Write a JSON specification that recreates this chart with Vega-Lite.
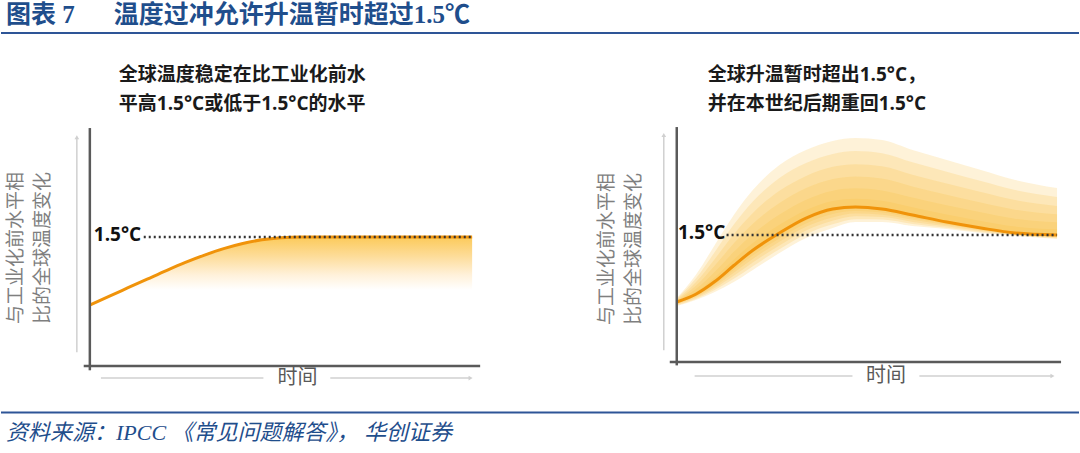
{
  "$schema": "https://vega.github.io/schema/vega-lite/v6.json",
  "width": 1080,
  "height": 453,
  "autosize": {"type": "fit", "contains": "padding"},
  "padding": 0,
  "background": "#ffffff",
  "config": {"view": {"stroke": null}},
  "resolve": {"scale": {"x": "independent", "y": "independent"}},
  "layer": [
    {
      "encoding": {
        "x": {"field": "x", "type": "quantitative", "scale": {"domain": [0, 100], "nice": false, "zero": false}, "axis": null},
        "y": {"field": "y", "type": "quantitative", "scale": {"domain": [0, 100], "reverse": true, "nice": false, "zero": false}, "axis": null}
      },
      "layer": [
        {
          "data": {"values": [
            {"x": 0, "x2": 100, "y": 7.3},
            {"x": 0, "x2": 100, "y": 91.06}
          ]},
          "mark": {"type": "rule", "color": "#2e5597", "strokeWidth": 2},
          "encoding": {"x2": {"field": "x2"}}
        },
        {
          "data": {"values": [
            {"x": 0.46, "y": 3.4, "text": "图表 7"},
            {"x": 10.46, "y": 3.4, "text": "温度过冲允许升温暂时超过1.5℃"}
          ]},
          "mark": {"type": "text", "align": "left", "baseline": "middle", "fontSize": 25, "fontWeight": "bold", "font": "Liberation Serif, Noto Sans CJK SC", "color": "#1f4e8c"},
          "encoding": {"text": {"field": "text", "type": "nominal"}}
        },
        {
          "data": {"values": [
            {"x": 0.46, "y": 95.6, "text": "资料来源：IPCC 《常见问题解答》， 华创证券"}
          ]},
          "mark": {"type": "text", "align": "left", "baseline": "middle", "fontSize": 22, "fontStyle": "italic", "font": "Liberation Serif, Noto Sans CJK SC", "color": "#1f4e8c"},
          "encoding": {"text": {"field": "text", "type": "nominal"}}
        }
      ]
    },
    {
      "encoding": {
        "x": {"field": "t", "type": "quantitative", "scale": {"domain": [-23.24, 258.75], "nice": false, "zero": false}, "axis": null},
        "y": {"field": "y", "type": "quantitative", "scale": {"domain": [-1.0116, 4.2558], "nice": false, "zero": false}, "axis": null}
      },
      "layer": [
        {
          "data": {"values": [
            {"t": 0, "y": 0.709, "y2": 0.62},
            {"t": 5, "y": 0.81, "y2": 0.70},
            {"t": 10, "y": 0.91, "y2": 0.76},
            {"t": 15, "y": 1.01, "y2": 0.79},
            {"t": 20, "y": 1.11, "y2": 0.815},
            {"t": 25, "y": 1.205, "y2": 0.835},
            {"t": 30, "y": 1.29, "y2": 0.85},
            {"t": 35, "y": 1.365, "y2": 0.86},
            {"t": 40, "y": 1.425, "y2": 0.87},
            {"t": 45, "y": 1.467, "y2": 0.875},
            {"t": 50, "y": 1.49, "y2": 0.88},
            {"t": 55, "y": 1.499, "y2": 0.88},
            {"t": 60, "y": 1.5, "y2": 0.88},
            {"t": 100, "y": 1.5, "y2": 0.88}
          ]},
          "layer": [
            {
              "mark": {"type": "area", "interpolate": "monotone", "color": {"gradient": "linear", "x1": 0, "y1": 0, "x2": 0, "y2": 1, "stops": [
                {"offset": 0, "color": "#fcca5a"},
                {"offset": 0.25, "color": "#fddc98"},
                {"offset": 0.5, "color": "#fff1da"},
                {"offset": 0.7, "color": "#ffffff"}
              ]}},
              "encoding": {"y2": {"field": "y2"}}
            },
            {
              "mark": {"type": "line", "color": "#f0930a", "strokeWidth": 3, "interpolate": "monotone"}
            }
          ]
        },
        {
          "data": {"values": [{"t": 14.1, "t2": 100, "y": 1.5, "y2": 1.5}]},
          "mark": {"type": "rule", "color": "#333333", "strokeWidth": 2.5, "strokeDash": [2, 3]},
          "encoding": {"x2": {"field": "t2"}, "y2": {"field": "y2"}}
        },
        {
          "data": {"values": [
            {"t": 0, "t2": 0, "y": -0.05, "y2": 2.767},
            {"t": -1.6, "t2": 102.1, "y": 0, "y2": 0}
          ]},
          "mark": {"type": "rule", "color": "#5a5a5a", "strokeWidth": 2.5},
          "encoding": {"x2": {"field": "t2"}, "y2": {"field": "y2"}}
        },
        {
          "data": {"values": [
            {"t": -3.4, "t2": -3.4, "y": 0.16, "y2": 2.64},
            {"t": 2.9, "t2": 45.4, "y": -0.14, "y2": -0.14},
            {"t": 62.9, "t2": 99.3, "y": -0.14, "y2": -0.14}
          ]},
          "mark": {"type": "rule", "color": "#d0d0d0", "strokeWidth": 1.5},
          "encoding": {"x2": {"field": "t2"}, "y2": {"field": "y2"}}
        },
        {
          "data": {"values": [{"t": -3.4, "y": 2.66}]},
          "mark": {"type": "point", "shape": "triangle-up", "filled": true, "size": 22, "color": "#d0d0d0", "opacity": 1}
        },
        {
          "data": {"values": [{"t": 99.6, "y": -0.14}]},
          "mark": {"type": "point", "shape": "triangle-right", "filled": true, "size": 22, "color": "#d0d0d0", "opacity": 1}
        },
        {
          "data": {"values": [{"t": 1.04, "y": 1.5, "text": "1.5°C"}]},
          "mark": {"type": "text", "align": "left", "baseline": "middle", "dy": -2, "fontSize": 19, "fontWeight": "bold", "font": "Open Sans, Noto Sans CJK SC", "color": "#111111"},
          "encoding": {"text": {"field": "text", "type": "nominal"}}
        },
        {
          "data": {"values": [{"t": 54.3, "y": -0.14, "text": "时间"}]},
          "mark": {"type": "text", "align": "center", "baseline": "middle", "fontSize": 20, "font": "Noto Sans CJK SC", "color": "#595959"},
          "encoding": {"text": {"field": "text", "type": "nominal"}}
        },
        {
          "data": {"values": [
            {"t": 7.57, "y": 3.378, "text": "全球温度稳定在比工业化前水"},
            {"t": 7.57, "y": 3.052, "text": "平高1.5°C或低于1.5°C的水平"}
          ]},
          "mark": {"type": "text", "align": "left", "baseline": "middle", "fontSize": 19, "fontWeight": "bold", "font": "Open Sans, Noto Sans CJK SC", "color": "#1a1a1a"},
          "encoding": {"text": {"field": "text", "type": "nominal"}}
        },
        {
          "data": {"values": [{"t": -19.32, "y": 1.372, "text": "与工业化前水平相\n比的全球温度变化"}]},
          "mark": {"type": "text", "align": "center", "baseline": "middle", "angle": 270, "lineBreak": "\n", "lineHeight": 27, "fontSize": 19, "font": "Noto Sans CJK SC", "color": "#7f7f7f"},
          "encoding": {"text": {"field": "text", "type": "nominal"}}
        }
      ]
    },
    {
      "encoding": {
        "x": {"field": "t", "type": "quantitative", "scale": {"domain": [-177.69, 105.77], "nice": false, "zero": false}, "axis": null},
        "y": {"field": "y", "type": "quantitative", "scale": {"domain": [-1.0748, 4.2756], "nice": false, "zero": false}, "axis": null}
      },
      "layer": [
        {
          "data": {"values": [
            {"b": 1, "t": 0, "y": 0.715, "y2": 0.703},
            {"b": 1, "t": 5, "y": 0.827, "y2": 0.792},
            {"b": 1, "t": 10, "y": 1.002, "y2": 0.935},
            {"b": 1, "t": 15, "y": 1.212, "y2": 1.117},
            {"b": 1, "t": 20, "y": 1.405, "y2": 1.292},
            {"b": 1, "t": 27, "y": 1.620, "y2": 1.496},
            {"b": 1, "t": 34, "y": 1.796, "y2": 1.672},
            {"b": 1, "t": 41, "y": 1.903, "y2": 1.780},
            {"b": 1, "t": 47, "y": 1.929, "y2": 1.810},
            {"b": 1, "t": 54, "y": 1.905, "y2": 1.789},
            {"b": 1, "t": 62, "y": 1.828, "y2": 1.720},
            {"b": 1, "t": 71, "y": 1.741, "y2": 1.643},
            {"b": 1, "t": 80, "y": 1.665, "y2": 1.576},
            {"b": 1, "t": 89, "y": 1.599, "y2": 1.520},
            {"b": 1, "t": 100, "y": 1.567, "y2": 1.494},
            {"b": 2, "t": 0, "y": 0.722, "y2": 0.696},
            {"b": 2, "t": 5, "y": 0.862, "y2": 0.782},
            {"b": 2, "t": 10, "y": 1.067, "y2": 0.917},
            {"b": 2, "t": 15, "y": 1.301, "y2": 1.087},
            {"b": 2, "t": 20, "y": 1.512, "y2": 1.257},
            {"b": 2, "t": 27, "y": 1.741, "y2": 1.460},
            {"b": 2, "t": 34, "y": 1.917, "y2": 1.637},
            {"b": 2, "t": 41, "y": 2.024, "y2": 1.747},
            {"b": 2, "t": 47, "y": 2.051, "y2": 1.783},
            {"b": 2, "t": 54, "y": 2.027, "y2": 1.765},
            {"b": 2, "t": 62, "y": 1.943, "y2": 1.701},
            {"b": 2, "t": 71, "y": 1.851, "y2": 1.631},
            {"b": 2, "t": 80, "y": 1.768, "y2": 1.567},
            {"b": 2, "t": 89, "y": 1.693, "y2": 1.514},
            {"b": 2, "t": 100, "y": 1.650, "y2": 1.487},
            {"b": 3, "t": 0, "y": 0.730, "y2": 0.688},
            {"b": 3, "t": 5, "y": 0.900, "y2": 0.770},
            {"b": 3, "t": 10, "y": 1.140, "y2": 0.896},
            {"b": 3, "t": 15, "y": 1.402, "y2": 1.054},
            {"b": 3, "t": 20, "y": 1.633, "y2": 1.217},
            {"b": 3, "t": 27, "y": 1.877, "y2": 1.420},
            {"b": 3, "t": 34, "y": 2.054, "y2": 1.597},
            {"b": 3, "t": 41, "y": 2.160, "y2": 1.708},
            {"b": 3, "t": 47, "y": 2.190, "y2": 1.753},
            {"b": 3, "t": 54, "y": 2.166, "y2": 1.739},
            {"b": 3, "t": 62, "y": 2.074, "y2": 1.679},
            {"b": 3, "t": 71, "y": 1.976, "y2": 1.617},
            {"b": 3, "t": 80, "y": 1.884, "y2": 1.557},
            {"b": 3, "t": 89, "y": 1.799, "y2": 1.508},
            {"b": 3, "t": 100, "y": 1.744, "y2": 1.479},
            {"b": 4, "t": 0, "y": 0.738, "y2": 0.679},
            {"b": 4, "t": 5, "y": 0.941, "y2": 0.758},
            {"b": 4, "t": 10, "y": 1.218, "y2": 0.874},
            {"b": 4, "t": 15, "y": 1.510, "y2": 1.019},
            {"b": 4, "t": 20, "y": 1.761, "y2": 1.176},
            {"b": 4, "t": 27, "y": 2.022, "y2": 1.377},
            {"b": 4, "t": 34, "y": 2.198, "y2": 1.554},
            {"b": 4, "t": 41, "y": 2.305, "y2": 1.668},
            {"b": 4, "t": 47, "y": 2.336, "y2": 1.721},
            {"b": 4, "t": 54, "y": 2.312, "y2": 1.712},
            {"b": 4, "t": 62, "y": 2.212, "y2": 1.655},
            {"b": 4, "t": 71, "y": 2.107, "y2": 1.602},
            {"b": 4, "t": 80, "y": 2.008, "y2": 1.546},
            {"b": 4, "t": 89, "y": 1.912, "y2": 1.502},
            {"b": 4, "t": 100, "y": 1.844, "y2": 1.471},
            {"b": 5, "t": 0, "y": 0.747, "y2": 0.670},
            {"b": 5, "t": 5, "y": 0.985, "y2": 0.745},
            {"b": 5, "t": 10, "y": 1.300, "y2": 0.850},
            {"b": 5, "t": 15, "y": 1.623, "y2": 0.982},
            {"b": 5, "t": 20, "y": 1.896, "y2": 1.131},
            {"b": 5, "t": 27, "y": 2.174, "y2": 1.332},
            {"b": 5, "t": 34, "y": 2.351, "y2": 1.510},
            {"b": 5, "t": 41, "y": 2.457, "y2": 1.626},
            {"b": 5, "t": 47, "y": 2.491, "y2": 1.687},
            {"b": 5, "t": 54, "y": 2.467, "y2": 1.682},
            {"b": 5, "t": 62, "y": 2.358, "y2": 1.631},
            {"b": 5, "t": 71, "y": 2.247, "y2": 1.587},
            {"b": 5, "t": 80, "y": 2.138, "y2": 1.535},
            {"b": 5, "t": 89, "y": 2.031, "y2": 1.495},
            {"b": 5, "t": 100, "y": 1.950, "y2": 1.462},
            {"b": 6, "t": 0, "y": 0.756, "y2": 0.661},
            {"b": 6, "t": 5, "y": 1.028, "y2": 0.732},
            {"b": 6, "t": 10, "y": 1.382, "y2": 0.827},
            {"b": 6, "t": 15, "y": 1.736, "y2": 0.945},
            {"b": 6, "t": 20, "y": 2.031, "y2": 1.087},
            {"b": 6, "t": 27, "y": 2.327, "y2": 1.287},
            {"b": 6, "t": 34, "y": 2.504, "y2": 1.465},
            {"b": 6, "t": 41, "y": 2.610, "y2": 1.583},
            {"b": 6, "t": 47, "y": 2.646, "y2": 1.653},
            {"b": 6, "t": 54, "y": 2.622, "y2": 1.653},
            {"b": 6, "t": 62, "y": 2.504, "y2": 1.606},
            {"b": 6, "t": 71, "y": 2.386, "y2": 1.571},
            {"b": 6, "t": 80, "y": 2.268, "y2": 1.524},
            {"b": 6, "t": 89, "y": 2.150, "y2": 1.488},
            {"b": 6, "t": 100, "y": 2.055, "y2": 1.453}
          ]},
          "mark": {"type": "area", "color": "#fbbf3a", "opacity": 0.2, "interpolate": "monotone"},
          "encoding": {"y2": {"field": "y2"}, "detail": {"field": "b", "type": "nominal"}}
        },
        {
          "data": {"values": [
            {"t": 0, "y": 0.709},
            {"t": 5, "y": 0.80},
            {"t": 10, "y": 0.95},
            {"t": 15, "y": 1.14},
            {"t": 20, "y": 1.32},
            {"t": 27, "y": 1.524},
            {"t": 34, "y": 1.70},
            {"t": 41, "y": 1.807},
            {"t": 47, "y": 1.831},
            {"t": 54, "y": 1.807},
            {"t": 62, "y": 1.736},
            {"t": 71, "y": 1.653},
            {"t": 80, "y": 1.583},
            {"t": 89, "y": 1.524},
            {"t": 100, "y": 1.50}
          ]},
          "mark": {"type": "line", "color": "#f0930a", "strokeWidth": 3, "interpolate": "monotone"}
        },
        {
          "data": {"values": [{"t": 13.1, "t2": 100, "y": 1.5, "y2": 1.5}]},
          "mark": {"type": "rule", "color": "#333333", "strokeWidth": 2.5, "strokeDash": [2, 3]},
          "encoding": {"x2": {"field": "t2"}, "y2": {"field": "y2"}}
        },
        {
          "data": {"values": [
            {"t": 0, "t2": 0, "y": -0.04, "y2": 2.775},
            {"t": -1.84, "t2": 101.05, "y": 0, "y2": 0}
          ]},
          "mark": {"type": "rule", "color": "#5a5a5a", "strokeWidth": 2.5},
          "encoding": {"x2": {"field": "t2"}, "y2": {"field": "y2"}}
        },
        {
          "data": {"values": [
            {"t": -3.41, "t2": -3.41, "y": 0.14, "y2": 2.66},
            {"t": 4.7, "t2": 46.2, "y": -0.165, "y2": -0.165},
            {"t": 63.8, "t2": 98.5, "y": -0.165, "y2": -0.165}
          ]},
          "mark": {"type": "rule", "color": "#d0d0d0", "strokeWidth": 1.5},
          "encoding": {"x2": {"field": "t2"}, "y2": {"field": "y2"}}
        },
        {
          "data": {"values": [{"t": -3.41, "y": 2.68}]},
          "mark": {"type": "point", "shape": "triangle-up", "filled": true, "size": 22, "color": "#d0d0d0", "opacity": 1}
        },
        {
          "data": {"values": [{"t": 98.8, "y": -0.165}]},
          "mark": {"type": "point", "shape": "triangle-right", "filled": true, "size": 22, "color": "#d0d0d0", "opacity": 1}
        },
        {
          "data": {"values": [{"t": 0.3, "y": 1.5, "text": "1.5°C"}]},
          "mark": {"type": "text", "align": "left", "baseline": "middle", "dy": -2, "fontSize": 19, "fontWeight": "bold", "font": "Open Sans, Noto Sans CJK SC", "color": "#111111"},
          "encoding": {"text": {"field": "text", "type": "nominal"}}
        },
        {
          "data": {"values": [{"t": 55.0, "y": -0.165, "text": "时间"}]},
          "mark": {"type": "text", "align": "center", "baseline": "middle", "fontSize": 20, "font": "Noto Sans CJK SC", "color": "#595959"},
          "encoding": {"text": {"field": "text", "type": "nominal"}}
        },
        {
          "data": {"values": [
            {"t": 8.14, "y": 3.384, "text": "全球升温暂时超出1.5°C，"},
            {"t": 8.14, "y": 3.053, "text": "并在本世纪后期重回1.5°C"}
          ]},
          "mark": {"type": "text", "align": "left", "baseline": "middle", "fontSize": 19, "fontWeight": "bold", "font": "Open Sans, Noto Sans CJK SC", "color": "#1a1a1a"},
          "encoding": {"text": {"field": "text", "type": "nominal"}}
        },
        {
          "data": {"values": [{"t": -18.37, "y": 1.335, "text": "与工业化前水平相\n比的全球温度变化"}]},
          "mark": {"type": "text", "align": "center", "baseline": "middle", "angle": 270, "lineBreak": "\n", "lineHeight": 27, "fontSize": 19, "font": "Noto Sans CJK SC", "color": "#7f7f7f"},
          "encoding": {"text": {"field": "text", "type": "nominal"}}
        }
      ]
    }
  ]
}
